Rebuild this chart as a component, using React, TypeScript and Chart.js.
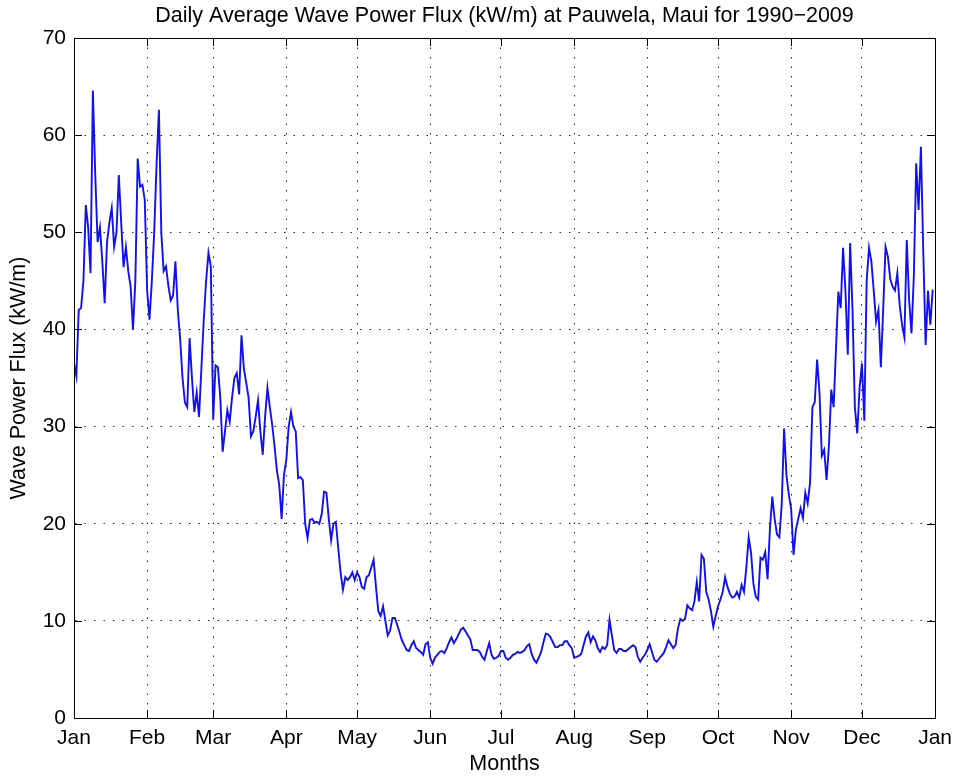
import { useEffect, useRef } from "react";
import { Chart, registerables } from "chart.js";

Chart.register(...registerables);

const monthLabels = ["Jan", "Feb", "Mar", "Apr", "May", "Jun", "Jul", "Aug", "Sep", "Oct", "Nov", "Dec", "Jan"];
const monthStartDays = [0, 31, 59, 90, 120, 151, 181, 212, 243, 273, 304, 334, 365];
const yTickValues = [0, 10, 20, 30, 40, 50, 60, 70];

const chartTitle = "Daily Average Wave Power Flux (kW/m) at Pauwela, Maui for 1990\u22122009";
const yAxisTitle = "Wave Power Flux (kW/m)";
const xAxisTitle = "Months";

// Daily average wave power flux (kW/m), one value per day of year
const fluxJan = [36.5, 35.2, 42, 42.2, 45, 52.8, 50.5, 45.8, 64.6, 56, 49, 50.5, 47, 42.7, 49, 51, 52.5, 48.5, 50, 55.9, 51, 46.4, 48.5, 46, 44.4, 40, 45, 57.6, 54.7, 54.9, 53.3];
const fluxFeb = [44, 41, 45, 50, 57, 62.6, 50, 46, 46.5, 44.5, 43, 43.5, 47, 42, 39, 35, 32.5, 32, 39.1, 35, 31.5, 33.5, 31, 36, 41, 45, 47.9, 46.5];
const fluxMar = [30.7, 36.3, 36.1, 33, 27.4, 29.5, 31.7, 30.5, 33, 35, 35.5, 33.3, 39.4, 36, 34.5, 33, 29, 29.5, 31, 32.7, 29.5, 27.1, 31, 34, 32, 30.2, 28, 25.5, 24, 20.5, 25];
const fluxApr = [26.6, 30, 31.5, 30, 29.5, 24.7, 24.8, 24.5, 20, 18.5, 20.4, 20.5, 20.1, 20.2, 20, 21, 23.3, 23.2, 20.5, 18.3, 20, 20.2, 17.5, 15, 13.2, 14.5, 14.2, 14.5, 15, 14.2];
const fluxMay = [15, 14.5, 13.5, 13.3, 14.5, 14.7, 15.5, 16.3, 13.5, 11, 10.5, 11.5, 10, 8.5, 9, 10.3, 10.3, 9.6, 8.8, 8, 7.5, 7, 6.9, 7.5, 7.9, 7.2, 7, 6.8, 6.5, 7.6, 7.8];
const fluxJun = [6.2, 5.6, 6.2, 6.5, 6.8, 6.9, 6.7, 7.2, 7.8, 8.3, 7.7, 8.1, 8.6, 9.1, 9.3, 8.9, 8.5, 8.1, 7, 7, 7, 6.8, 6.3, 6, 6.9, 7.7, 6.5, 6.1, 6.2, 6.4];
const fluxJul = [6.9, 6.9, 6.2, 6.0, 6.2, 6.5, 6.6, 6.8, 6.7, 6.8, 7, 7.4, 7.6, 6.6, 6, 5.7, 6.2, 6.8, 7.8, 8.7, 8.6, 8.3, 7.8, 7.3, 7.3, 7.5, 7.5, 7.9, 7.9, 7.5, 7.2];
const fluxAug = [6.2, 6.3, 6.4, 6.6, 7.5, 8.4, 8.8, 7.8, 8.4, 8, 7.2, 6.8, 7.3, 7.1, 7.5, 10.1, 8.5, 7, 6.7, 7.1, 7.1, 6.9, 6.9, 7.1, 7.3, 7.5, 7.3, 6.3, 5.8, 6.2, 6.5];
const fluxSep = [7, 7.6, 6.8, 6, 5.8, 6.1, 6.4, 6.7, 7.3, 8, 7.6, 7.2, 7.5, 9.2, 10.2, 10, 10.2, 11.6, 11.3, 11.1, 12, 14, 12, 16.8, 16.4, 13, 12.2, 11, 9.4, 10.5];
const fluxOct = [11.5, 12.2, 13, 14.5, 13.5, 12.8, 12.4, 12.5, 13, 12.4, 13.7, 13, 15.5, 18.6, 17, 13.8, 12.5, 12.2, 16.5, 16.3, 17.1, 14.3, 19.5, 22.8, 20.5, 18.9, 18.6, 22, 29.8, 25, 23];
const fluxNov = [21.5, 16.8, 19.4, 20.5, 21.6, 20.6, 23.2, 22.1, 24.2, 32, 32.5, 36.9, 33.5, 27, 27.6, 24.5, 28, 33.8, 32, 38, 43.9, 42.2, 48.4, 44, 37.4, 48.9, 42, 32, 29.3, 34];
const fluxDec = [36.5, 30.6, 45, 48.4, 47, 44, 40.8, 42, 36.1, 42, 48.5, 47.5, 45.2, 44.4, 44, 45.8, 42.5, 40.5, 39.2, 49.2, 43, 39.6, 45.5, 57.1, 52.3, 58.8, 48, 38.4, 44, 40.5, 44.1];

const dailyFlux = [
  ...fluxJan, ...fluxFeb, ...fluxMar, ...fluxApr, ...fluxMay, ...fluxJun,
  ...fluxJul, ...fluxAug, ...fluxSep, ...fluxOct, ...fluxNov, ...fluxDec,
];

const FONT = "'Liberation Sans', Arial, Helvetica, sans-serif";

const framePlugin = {
  id: "matlabFrame",
  afterDraw(chart: any) {
    const { ctx, chartArea } = chart;
    const { left, right, top, bottom } = chartArea;
    ctx.save();
    ctx.strokeStyle = "#000";
    ctx.lineWidth = 1;
    ctx.strokeRect(Math.round(left) + 0.5, Math.round(top) + 0.5, Math.round(right - left), Math.round(bottom - top));
    const tl = 8;
    const xs = chart.scales.x;
    const ys = chart.scales.y;
    ctx.beginPath();
    for (const d of monthStartDays) {
      const px = Math.round(xs.getPixelForValue(d)) + 0.5;
      ctx.moveTo(px, bottom);
      ctx.lineTo(px, bottom - tl);
      ctx.moveTo(px, top);
      ctx.lineTo(px, top + tl);
    }
    for (const v of yTickValues) {
      const py = Math.round(ys.getPixelForValue(v)) + 0.5;
      ctx.moveTo(left, py);
      ctx.lineTo(left + tl, py);
      ctx.moveTo(right, py);
      ctx.lineTo(right - tl, py);
    }
    ctx.stroke();

    ctx.fillStyle = "#000";
    ctx.textAlign = "center";
    ctx.textBaseline = "middle";
    ctx.font = `21.5px ${FONT}`;
    ctx.fillText(chartTitle, (left + right) / 2, 16);
    ctx.font = `21.5px ${FONT}`;
    ctx.fillText(xAxisTitle, (left + right) / 2, 764);
    ctx.translate(19, (top + bottom) / 2);
    ctx.rotate(-Math.PI / 2);
    ctx.fillText(yAxisTitle, 0, 0);
    ctx.restore();
  },
};

export default function App() {
  const canvasRef = useRef<HTMLCanvasElement | null>(null);

  useEffect(() => {
    document.body.style.margin = "0";
    const canvas = canvasRef.current;
    if (!canvas) return;
    const chart = new Chart(canvas, {
      type: "line",
      data: {
        datasets: [
          {
            data: dailyFlux.map((v, i) => ({ x: i, y: v })),
            borderColor: "#1010f0",
            borderWidth: 1.9,
            pointRadius: 0,
            tension: 0,
            fill: false,
          },
        ],
      },
      options: {
        animation: false,
        responsive: false,
        maintainAspectRatio: false,
        layout: { padding: { top: 38, right: 23, left: 0, bottom: 0 } },
        plugins: {
          legend: { display: false },
          title: { display: false },
          tooltip: { enabled: false },
        },
        scales: {
          x: {
            type: "linear",
            min: 0,
            max: 365,
            afterBuildTicks: (axis: any) => {
              axis.ticks = monthStartDays.map((d) => ({ value: d }));
            },
            afterFit: (axis: any) => {
              axis.height = 60;
            },
            ticks: {
              autoSkip: false,
              maxRotation: 0,
              padding: 8,
              color: "#000",
              font: { family: FONT, size: 21 },
              callback: (_v: any, idx: number) => monthLabels[idx],
            },
            grid: {
              drawTicks: false,
              color: "rgba(0,0,0,0.85)",
              lineWidth: 1,
            },
            border: { display: true, color: "#000", dash: [1.5, 8] },
          },
          y: {
            type: "linear",
            min: 0,
            max: 70,
            afterBuildTicks: (axis: any) => {
              axis.ticks = yTickValues.map((v) => ({ value: v }));
            },
            afterFit: (axis: any) => {
              axis.width = 74;
            },
            ticks: {
              padding: 8,
              color: "#000",
              font: { family: FONT, size: 21 },
            },
            grid: {
              drawTicks: false,
              color: "rgba(0,0,0,0.85)",
              lineWidth: 1,
            },
            border: { display: true, color: "#000", dash: [1.5, 8] },
          },
        },
      },
      plugins: [framePlugin],
    });
    return () => chart.destroy();
  }, []);

  return (
    <div style={{ position: "absolute", left: 0, top: 0, width: 960, height: 778, background: "#fff" }}>
      <canvas ref={canvasRef} width={960} height={778} />
    </div>
  );
}
